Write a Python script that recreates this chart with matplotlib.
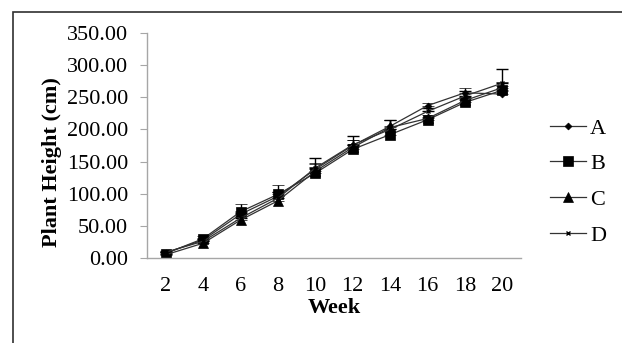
import numpy as np
import matplotlib.pyplot as plt
from matplotlib.patches import Rectangle

plt.rcParams['font.family'] = ['Liberation Serif', 'DejaVu Serif']

weeks = ['2', '4', '6', '8', '10', '12', '14', '16', '18', '20']

height_a = [8, 28, 68, 96, 138, 175, 205, 237, 257, 255]
height_b = [7, 30, 72, 99, 132, 169, 192, 215, 242, 261]
height_c = [5, 23, 59, 89, 135, 172, 203, 217, 245, 265]
height_d = [9, 26, 62, 93, 140, 176, 200, 228, 252, 272]

err_a = [2, 3, 5, 6, 8, 8, 10, 4, 7, 5]
err_b = [2, 4, 12, 14, 10, 9, 8, 4, 6, 6]
err_c = [1, 3, 6, 8, 12, 12, 12, 5, 6, 8]
err_d = [2, 4, 8, 10, 15, 14, 15, 6, 8, 22]

series = [
    ('A', height_a, err_a, 'D', 3.5),
    ('B', height_b, err_b, 's', 7),
    ('C', height_c, err_c, '^', 6.5),
    ('D', height_d, err_d, 'x', 3.5),
]

fig = plt.figure(figsize=(6.22, 3.43), dpi=100)
ax = fig.add_axes([147 / 622, 1 - 258 / 343, (521 - 147) / 622, (258 - 33) / 343])

x = np.arange(len(weeks))
for name, vals, err, mk, ms in series:
    ax.errorbar(x, vals, yerr=[np.zeros(len(err)), err], color='#333333',
                ecolor='black', elinewidth=1, capsize=4, capthick=1,
                marker=mk, markersize=ms, markerfacecolor='black',
                markeredgecolor='black', markeredgewidth=1 if mk == 'x' else 0.5,
                linewidth=0.9, label=name)

ax.set_xlim(-0.5, len(weeks) - 0.5)
ax.set_ylim(0, 350)
ax.set_xticks(x)
ax.set_xticklabels(weeks)
ax.set_yticks(np.arange(0, 351, 50))
ax.set_yticklabels([f'{v:.2f}' for v in np.arange(0, 351, 50)])

for s in ['top', 'right']:
    ax.spines[s].set_visible(False)
for s in ['left', 'bottom']:
    ax.spines[s].set_color('#a6a6a6')
    ax.spines[s].set_linewidth(1)

ax.tick_params(axis='y', length=4.75, color='#a6a6a6', pad=9, labelsize=16)
ax.tick_params(axis='x', length=0, pad=14, labelsize=16)

ax.set_xlabel('Week', fontsize=16, fontweight='bold', labelpad=1)
ax.set_ylabel('Plant Height (cm)', fontsize=16, fontweight='bold')
# Excel puts the axis title a bit below the middle of the axis
ax.yaxis.set_label_coords(-0.228, 0.427)

handles, labels = ax.get_legend_handles_labels()
handles = [h[0] for h in handles]
ax.legend(handles, labels, loc='upper left', bbox_to_anchor=(550 / 622, 1 - 118 / 343),
          bbox_transform=fig.transFigure, frameon=False, fontsize=16,
          handlelength=1.6, handletextpad=0.2, labelspacing=0.68, borderpad=0,
          borderaxespad=0)

fig.patches.append(Rectangle((13 / 622, -0.5), 2, 0.5 + 1 - 12 / 343,
                             transform=fig.transFigure, fill=False,
                             edgecolor='#303030', linewidth=1.2))

fig.savefig('out.png', dpi=100)
